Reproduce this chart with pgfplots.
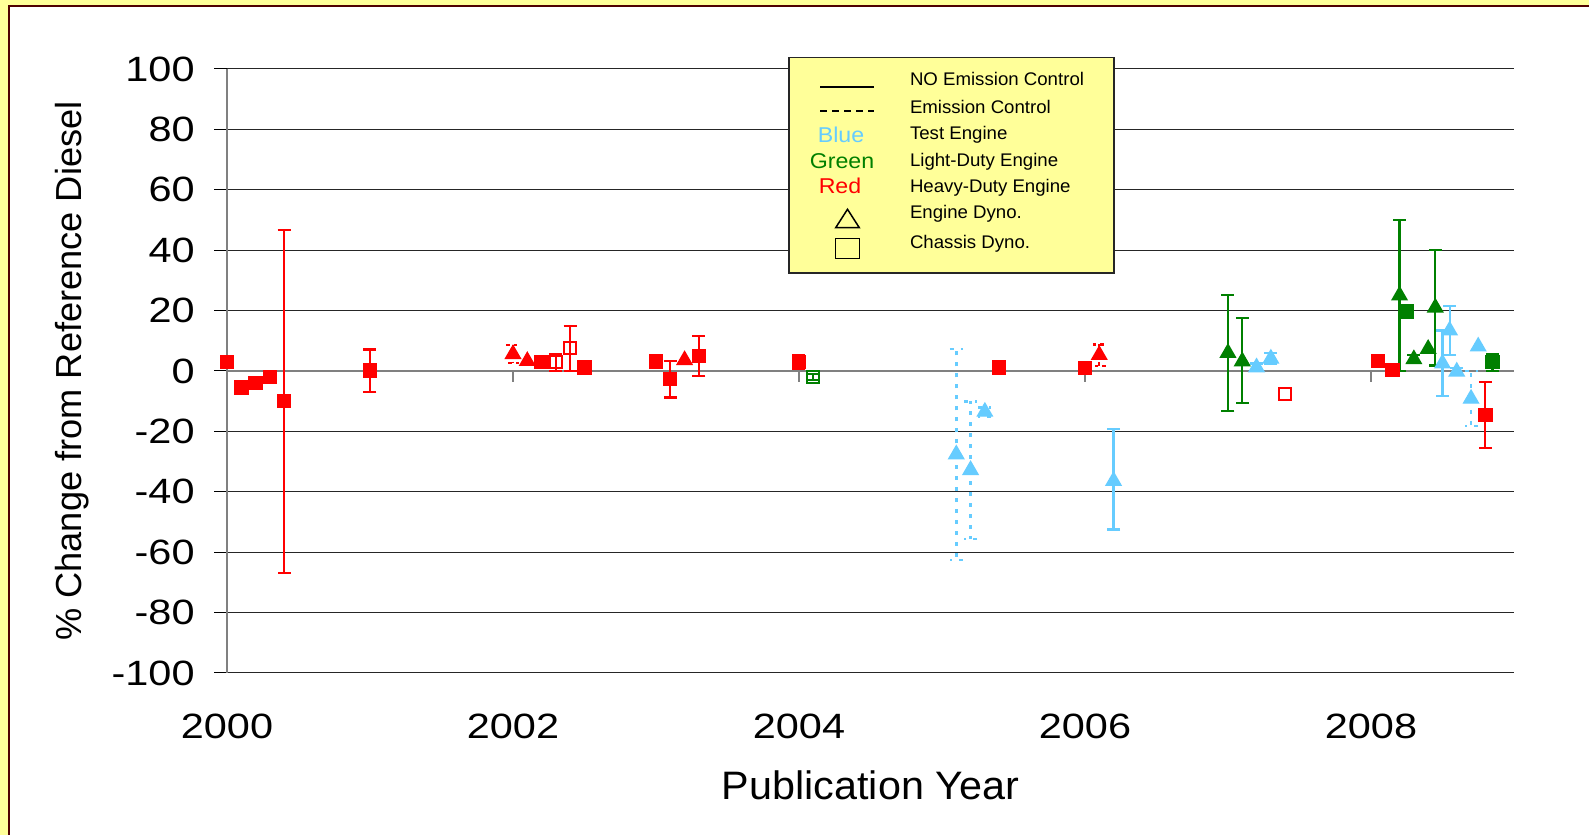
\documentclass[border=0pt]{standalone}
\usepackage{pgfplots}
\pgfplotsset{compat=1.18}
\usepackage{pgfplotstable}
\usepackage{fontspec}
\setmainfont{Liberation Sans}
\newfontfamily\tickfont[FakeStretch=1.18]{Liberation Sans}
\newfontfamily\labfont[FakeStretch=1.04]{Liberation Sans}
\newfontfamily\legfont[FakeStretch=1.02]{Liberation Sans}
\newfontfamily\colfont[FakeStretch=1.08]{Liberation Sans}
\definecolor{cred}{HTML}{FF0000}
\definecolor{cgreen}{HTML}{008000}
\definecolor{cblue}{HTML}{66CCFF}
\definecolor{bgyellow}{HTML}{FFFF99}
\definecolor{framecol}{HTML}{500000}

% red filled squares, no error
\pgfplotstableread{
x y
2000.0 3.0
2000.1 -5.5
2000.2 -3.9
2000.3 -1.9
2002.2 3.0
2002.5 1.2
2003.0 3.1
2005.4 1.1
2006.0 0.9
2008.05 3.3
2008.15 0.3
}\redsq
% red filled squares with error bars
\pgfplotstableread{
x y ep em
2000.4 -10.0 56.8 56.9
2001.0 0.1 7.0 7.1
2003.1 -2.6 5.9 6.2
2003.3 5.0 6.7 6.7
2004.0 3.0 2.4 2.4
2008.8 -14.6 11.0 11.0
}\redsqerr
% red filled triangles, no error
\pgfplotstableread{
x y
2002.1 3.3
2003.2 3.6
}\redtri
% red filled triangles, dashed error
\pgfplotstableread{
x y ep em
2002.0 5.6 3.0 3.0
2006.1 5.3 3.5 3.6
}\redtridash
% red open squares with error
\pgfplotstableread{
x y ep em
2002.3 3.0 2.6 3.0
2002.4 7.5 7.4 7.5
}\redopenerr
\pgfplotstableread{
x y
2007.4 -7.6
}\redopen
% green filled triangles with error
\pgfplotstableread{
x y ep em
2007.0 6.0 19.1 19.2
2007.1 3.2 14.3 13.9
2008.2 25.0 25.1 25.0
2008.3 3.9 1.3 1.3
2008.45 21.0 19.1 19.2
}\greentrierr
\pgfplotstableread{
x y
2008.4 7.3
}\greentri
% green filled squares
\pgfplotstableread{
x y
2008.25 19.7
}\greensq
\pgfplotstableread{
x y ep em
2008.85 2.9 2.7 2.9
}\greensqerr
% green open square
\pgfplotstableread{
x y ep em
2004.1 -1.9 1.0 1.0
}\greenopen
% blue triangles, solid error
\pgfplotstableread{
x y ep em
2006.2 -36.4 17.3 16.1
2007.2 1.2 1.3 1.3
2007.3 4.1 1.9 1.9
2008.5 2.5 10.9 10.8
2008.55 13.4 8.2 8.1
2008.6 -0.2 1.2 1.2
}\bluetrierr
\pgfplotstableread{
x y
2008.75 8.1
}\bluetri
% blue triangles, dashed error (emission control)
\pgfplotstableread{
x y ep em
2005.1 -27.6 34.9 35.0
2005.2 -32.8 22.8 22.8
2005.3 -13.5 1.5 1.5
2008.7 -9.2 9.2 9.0
}\bluetridash

\pgfplotsset{
  ebsolid/.style={error bars/.cd, y dir=both, y explicit,
    error bar style={line width=0.22mm, solid},
    error mark options={rotate=90, mark size=0.65mm, line width=0.22mm, solid}},
  ebdash/.style={error bars/.cd, y dir=both, y explicit,
    error bar style={line width=0.22mm, dash pattern=on 0.35mm off 0.4mm},
    error mark options={rotate=90, mark size=0.65mm, line width=0.22mm, dash pattern=on 0.35mm off 0.4mm}},
  ebdot/.style={error bars/.cd, y dir=both, y explicit,
    error bar style={line width=0.28mm, dash pattern=on 0.4mm off 0.7mm},
    error mark options={rotate=90, mark size=0.65mm, line width=0.28mm, dash pattern=on 0.4mm off 0.7mm}},
  sq/.style={only marks, mark=square*, mark size=0.65mm},
  tri/.style={only marks, mark=triangle*, mark size=0.85mm},
  osq/.style={only marks, mark=square, mark size=0.6mm, mark options={line width=0.22mm}},
}

\begin{document}
\begin{tikzpicture}
\fill[bgyellow] (0,0) rectangle (158.9mm,-83.5mm);
\useasboundingbox (0,0) rectangle (158.9mm,-83.5mm);
\fill[white] (0.9mm,-0.6mm) rectangle (162mm,-87mm);
\draw[framecol, line width=0.22mm] (0.9mm,-87mm) -- (0.9mm,-0.6mm) -- (162mm,-0.6mm);

\begin{axis}[
  at={(22.7mm,-67.3mm)}, anchor=south west,
  scale only axis, width=128.7mm, height=60.4mm,
  xmin=2000, xmax=2009, ymin=-100, ymax=100,
  axis y line*=left, axis x line*=bottom,
  x axis line style={draw=none},
  y axis line style={draw=gray, line width=0.15mm},
  xtick={2000,2002,2004,2006,2008},
  ytick={-100,-80,...,100},
  xtick style={draw=none},
  ytick style={black, line width=0.1mm},
  tick align=outside, major tick length=1.3mm,
  ymajorgrids, grid style={black!85, line width=0.1mm},
  extra y ticks={0}, extra y tick labels={},
  extra y tick style={grid style={gray, line width=0.2mm}, major tick length=0mm},
  /pgf/number format/assume math mode=true,
  /pgf/number format/1000 sep={},
  yticklabel style={font=\tickfont\fontsize{10}{12}\selectfont, xshift=-0.7mm},
  xticklabel style={font=\tickfont\fontsize{10}{12}\selectfont, yshift=-1.6mm},
  xlabel={Publication Year},
  xlabel style={font=\labfont\fontsize{11.3}{13}\selectfont, at={(axis description cs:0.5,-0.186)}, anchor=center},
  ylabel={\% Change from Reference Diesel},
  ylabel style={font=\fontsize{10.3}{12}\selectfont, at={(axis description cs:-0.12,0.5)}, anchor=center},
  clip=false,
]
\draw[gray, line width=0.15mm] (axis cs:2000,0) -- ++(0pt,-1.1mm);
\draw[gray, line width=0.15mm] (axis cs:2002,0) -- ++(0pt,-1.1mm);
\draw[gray, line width=0.15mm] (axis cs:2004,0) -- ++(0pt,-1.1mm);
\draw[gray, line width=0.15mm] (axis cs:2006,0) -- ++(0pt,-1.1mm);
\draw[gray, line width=0.15mm] (axis cs:2008,0) -- ++(0pt,-1.1mm);

% error-bar plots
\addplot[sq, color=cred, ebsolid] table[x=x, y=y, y error plus=ep, y error minus=em] {\redsqerr};
\addplot[tri, color=cred, ebdash] table[x=x, y=y, y error plus=ep, y error minus=em] {\redtridash};
\addplot[osq, color=cred, ebsolid] table[x=x, y=y, y error plus=ep, y error minus=em] {\redopenerr};
\addplot[tri, color=cgreen, ebsolid] table[x=x, y=y, y error plus=ep, y error minus=em] {\greentrierr};
\addplot[sq, color=cgreen, ebsolid] table[x=x, y=y, y error plus=ep, y error minus=em] {\greensqerr};
\addplot[osq, color=cgreen, ebsolid] table[x=x, y=y, y error plus=ep, y error minus=em] {\greenopen};
\addplot[tri, color=cblue, ebsolid] table[x=x, y=y, y error plus=ep, y error minus=em] {\bluetrierr};
\addplot[tri, color=cblue, ebdot] table[x=x, y=y, y error plus=ep, y error minus=em] {\bluetridash};
% plain markers
\addplot[sq, color=cred] table[x=x, y=y] {\redsq};
\addplot[tri, color=cred] table[x=x, y=y] {\redtri};
\addplot[osq, color=cred] table[x=x, y=y] {\redopen};
\addplot[tri, color=cgreen] table[x=x, y=y] {\greentri};
\addplot[sq, color=cgreen] table[x=x, y=y] {\greensq};
\addplot[tri, color=cblue] table[x=x, y=y] {\bluetri};
\end{axis}

% legend box
\draw[black!85, line width=0.15mm, fill=bgyellow] (78.9mm,-5.73mm) rectangle (111.4mm,-27.3mm);
\draw[black, line width=0.2mm] (82mm,-8.73mm) -- (87.4mm,-8.73mm);
\draw[black, line width=0.2mm, dash pattern=on 0.65mm off 0.55mm] (82mm,-11.1mm) -- (87.4mm,-11.1mm);
\node[anchor=base, inner sep=0, text=cblue, font=\colfont\fontsize{6.1}{7}\selectfont] at (84.1mm,-14.27mm) {Blue};
\node[anchor=base, inner sep=0, text=cgreen, font=\colfont\fontsize{6.1}{7}\selectfont] at (84.2mm,-16.85mm) {Green};
\node[anchor=base, inner sep=0, text=cred, font=\colfont\fontsize{6.1}{7}\selectfont] at (84.0mm,-19.35mm) {Red};
\draw[black, line width=0.15mm] (83.57mm,-22.77mm) -- (85.93mm,-22.77mm) -- (84.75mm,-20.93mm) -- cycle;
\draw[black, line width=0.15mm] (83.57mm,-23.83mm) rectangle (85.93mm,-25.83mm);
\begin{scope}[every node/.style={anchor=base west, inner sep=0, font=\legfont\fontsize{5.2}{6}\selectfont}]
\node at (90.93mm,-8.6mm) {NO Emission Control};
\node at (90.93mm,-11.35mm) {Emission Control};
\node at (90.93mm,-13.93mm) {Test Engine};
\node at (90.93mm,-16.63mm) {Light-Duty Engine};
\node at (90.93mm,-19.23mm) {Heavy-Duty Engine};
\node at (90.93mm,-21.9mm) {Engine Dyno.};
\node at (90.93mm,-24.9mm) {Chassis Dyno.};
\end{scope}
\end{tikzpicture}
\end{document}
